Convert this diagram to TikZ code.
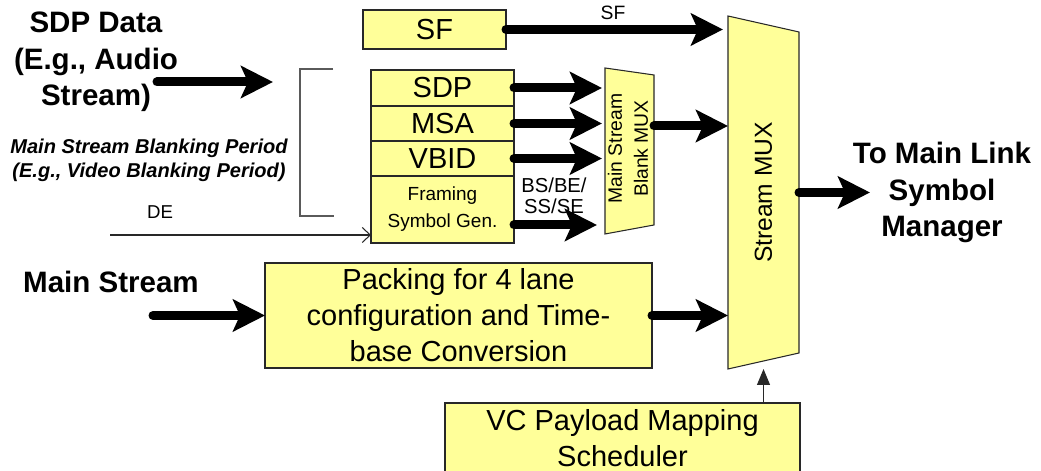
\documentclass[tikz,border=0pt]{standalone}
\usepackage{fontspec}
\setmainfont{Liberation Sans}
\usepackage{xcolor}
\definecolor{mxyellow}{RGB}{255,255,153}
\definecolor{mxline}{RGB}{40,40,40}
\definecolor{mxgray}{RGB}{90,90,90}
\usetikzlibrary{arrows.meta, positioning, calc}

\begin{document}
\begin{tikzpicture}[
  blk/.style={draw=mxline, fill=mxyellow, line width=0.6pt, inner sep=0pt, outer sep=0pt, align=center, font=\fontsize{16.5}{20.5}\selectfont},
  rowblk/.style={blk, minimum width=2.86cm},
  muxframe/.style={inner sep=0pt, outer sep=0pt},
  muxshape/.style={draw=mxline, fill=mxyellow, line width=0.6pt},
  fatarrow/.style={line width=0.18cm, line cap=round, -{Stealth[length=0.64cm,width=0.64cm,inset=0.14cm]}},
  thinarrow/.style={mxline, line width=0.6pt},
  headline/.style={font=\fontsize{16.8}{20.8}\selectfont\bfseries, align=center}
]
  \clip (0,0) rectangle (20.82,9.42);

  % --- Blocks ---
  \node[blk, minimum width=2.86cm, minimum height=0.78cm] (sf) at (8.69,8.83) {SF};
  \node[rowblk, minimum height=0.72cm] (sdp) at (8.85,7.66) {SDP};
  \node[rowblk, minimum height=0.70cm, below=0pt of sdp] (msa) {MSA};
  \node[rowblk, minimum height=0.70cm, below=0pt of msa] (vbid) {VBID};
  \node[rowblk, minimum height=1.34cm, below=0pt of vbid, font=\fontsize{10.8}{15.4}\selectfont] (framing) {Framing\\Symbol Gen.};
  \node[blk, minimum width=7.74cm, minimum height=2.10cm] (pack) at (9.17,3.11) {Packing for 4 lane\\configuration and Time-\\base Conversion};
  \node[blk, minimum width=7.10cm, minimum height=1.40cm] (vc) at (12.45,0.66) {VC Payload Mapping\\Scheduler};

  % --- MUX shapes ---
  \node[muxframe, minimum width=0.98cm, minimum height=3.32cm] (bmux) at (12.59,6.40) {};
  \draw[muxshape] (bmux.north west) -- ($(bmux.north east)+(0,-0.14)$) -- ($(bmux.south east)+(0,0.18)$) -- (bmux.south west) -- cycle;
  \node[rotate=90, font=\fontsize{11}{14.8}\selectfont, align=center] (bmuxlabel) at (12.56,6.45) {Main Stream\\Blank MUX};
  \node[muxframe, minimum width=1.42cm, minimum height=7.06cm] (smux) at (15.27,5.57) {};
  \draw[muxshape] (smux.north west) -- ($(smux.north east)+(0,-0.32)$) -- ($(smux.south east)+(0,0.32)$) -- (smux.south west) -- cycle;
  \node[rotate=90, font=\fontsize{14}{17}\selectfont] (smuxlabel) at (smux) {Stream MUX};

  % --- Text labels ---
  \node[headline] (sdpdata) at (1.92,8.18) {SDP Data\\(E.g., Audio\\Stream)};
  \node[font=\fontsize{11.4}{13.7}\selectfont\bfseries\itshape, align=center] (blanking) at (2.98,6.22) {Main Stream Blanking Period\\(E.g., Video Blanking Period)};
  \node[font=\fontsize{10.6}{12}\selectfont] (delabel) at (3.2,5.18) {DE};
  \node[headline] (mainstream) at (2.22,3.78) {Main Stream};
  \node[headline] (tolink) at (18.84,5.57) {To Main Link\\Symbol\\Manager};
  \node[font=\fontsize{11}{13}\selectfont] (sflabel) at (12.26,9.16) {SF};
  \node[font=\fontsize{11.5}{12}\selectfont, align=center] (bslabel) at (11.08,5.5) {BS/BE/\\SS/SE};

  % --- Bracket ---
  \draw[mxgray, line width=0.6pt] (6.66,8.04) -- (6.0,8.04) -- (6.0,5.1) -- (6.68,5.1);

  % --- Connectors ---
  \coordinate (audioin) at (3.14,7.78);
  \coordinate (audiotip) at (5.46,7.78);
  \draw[fatarrow] (audioin) -- (audiotip);
  \draw[fatarrow, shorten >=0.1cm] (sf.east) -- (sf.east -| smux.west);
  \foreach \row in {sdp, msa, vbid}
    \draw[fatarrow, shorten >=0.06cm] (\row.east) -- (\row.east -| bmux.west);
  \coordinate (fsgout) at ([yshift=-0.31cm]framing.east);
  \draw[fatarrow, shorten >=0.16cm] (fsgout) -- (fsgout -| bmux.west);
  \coordinate (bmuxout) at ([yshift=0.5cm]bmux.east);
  \draw[fatarrow] (bmuxout) -- (bmuxout -| smux.west);
  \draw[fatarrow] (pack.east) -- (pack.east -| smux.west);
  \coordinate (mainin) at (3.06,3.11);
  \draw[fatarrow] (mainin) -- (pack.west);
  \coordinate (linktip) at (17.40,5.57);
  \draw[fatarrow] (smux.east) -- (linktip);
  \coordinate (dein) at (2.2,4.72);
  \draw[thinarrow, -{Straight Barb[length=0.16cm,width=0.3cm]}] (dein) -- (dein -| framing.west);
  \draw[thinarrow, -{Triangle[length=0.32cm,width=0.26cm]}] (vc.north -| smux.south) -- (smux.south);
\end{tikzpicture}
\end{document}
